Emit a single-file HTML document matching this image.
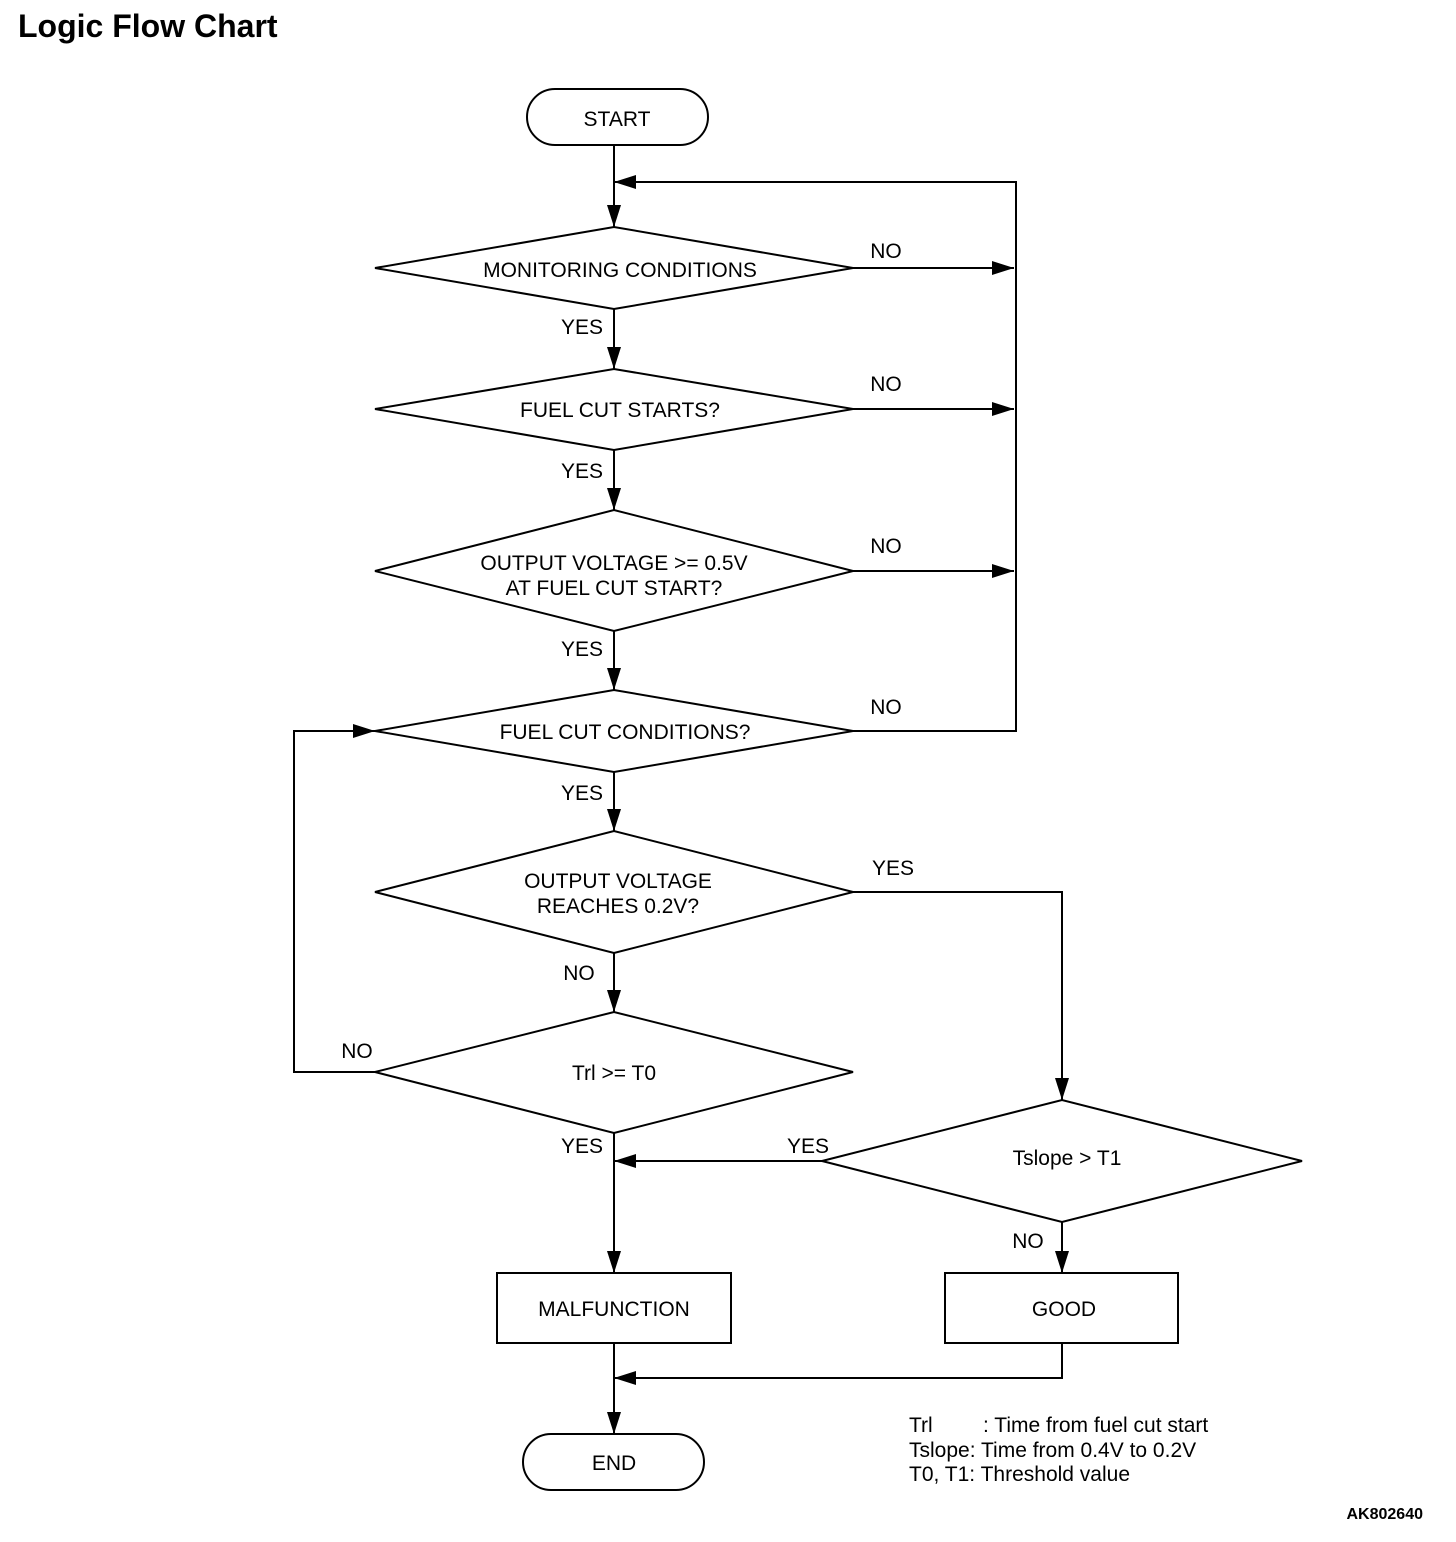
<!DOCTYPE html>
<html><head><meta charset="utf-8"><style>
html,body{margin:0;padding:0;background:#fff;}
svg{display:block;}
text{font-family:"Liberation Sans",Arial,sans-serif;fill:#000;}
</style></head><body>
<svg width="1456" height="1542" viewBox="0 0 1456 1542" xmlns="http://www.w3.org/2000/svg">
<defs>
<marker id="a" markerWidth="24" markerHeight="14" refX="22" refY="7" orient="auto" markerUnits="userSpaceOnUse">
<path d="M0,0 L22,7 L0,14 z" fill="#000"/>
</marker>
</defs>
<text x="18" y="37" font-size="32" font-weight="bold">Logic Flow Chart</text>
<g stroke="#000" stroke-width="2" fill="none">
<rect x="527" y="89" width="181" height="56" rx="28"/>
<rect x="523" y="1434" width="181" height="56" rx="28"/>
<rect x="497" y="1273" width="234" height="70"/>
<rect x="945" y="1273" width="233" height="70"/>
<polygon points="375,268 614,227 853,268 614,309"/>
<polygon points="375,409 614,369 853,409 614,450"/>
<polygon points="375,571 614,510 853,571 614,631"/>
<polygon points="375,731 614,690 853,731 614,772"/>
<polygon points="375,892 614,831 853,892 614,953"/>
<polygon points="375,1072 614,1012 853,1072 614,1133"/>
<polygon points="822,1161 1062,1100 1302,1161 1062,1222"/>
<!-- main line -->
<line x1="614" y1="145" x2="614" y2="227" marker-end="url(#a)"/>
<line x1="614" y1="309" x2="614" y2="369" marker-end="url(#a)"/>
<line x1="614" y1="450" x2="614" y2="510" marker-end="url(#a)"/>
<line x1="614" y1="631" x2="614" y2="690" marker-end="url(#a)"/>
<line x1="614" y1="772" x2="614" y2="831" marker-end="url(#a)"/>
<line x1="614" y1="953" x2="614" y2="1012" marker-end="url(#a)"/>
<line x1="614" y1="1133" x2="614" y2="1273" marker-end="url(#a)"/>
<line x1="614" y1="1343" x2="614" y2="1434" marker-end="url(#a)"/>
<!-- top loop -->
<polyline points="853,731 1016,731 1016,182 614,182" marker-end="url(#a)"/>
<line x1="853" y1="268" x2="1014" y2="268" marker-end="url(#a)"/>
<line x1="853" y1="409" x2="1014" y2="409" marker-end="url(#a)"/>
<line x1="853" y1="571" x2="1014" y2="571" marker-end="url(#a)"/>
<!-- left loop -->
<polyline points="375,1072 294,1072 294,731 375,731" marker-end="url(#a)"/>
<!-- yes right -->
<polyline points="853,892 1062,892 1062,1100" marker-end="url(#a)"/>
<line x1="822" y1="1161" x2="614" y2="1161" marker-end="url(#a)"/>
<line x1="1062" y1="1222" x2="1062" y2="1273" marker-end="url(#a)"/>
<polyline points="1062,1343 1062,1378 614,1378" marker-end="url(#a)"/>
</g>
<g font-size="21" text-anchor="middle">
<text x="617" y="126">START</text>
<text x="614" y="1470">END</text>
<text x="614" y="1316">MALFUNCTION</text>
<text x="1064" y="1316">GOOD</text>
<text x="620" y="277">MONITORING CONDITIONS</text>
<text x="620" y="417">FUEL CUT STARTS?</text>
<text x="614" y="570">OUTPUT VOLTAGE &gt;= 0.5V</text>
<text x="614" y="595">AT FUEL CUT START?</text>
<text x="625" y="739">FUEL CUT CONDITIONS?</text>
<text x="618" y="888">OUTPUT VOLTAGE</text>
<text x="618" y="913">REACHES 0.2V?</text>
<text x="614" y="1080">Trl &gt;= T0</text>
<text x="1067" y="1165">Tslope &gt; T1</text>
<text x="886" y="258">NO</text>
<text x="886" y="391">NO</text>
<text x="886" y="553">NO</text>
<text x="886" y="714">NO</text>
<text x="582" y="334">YES</text>
<text x="582" y="478">YES</text>
<text x="582" y="656">YES</text>
<text x="582" y="800">YES</text>
<text x="893" y="875">YES</text>
<text x="579" y="980">NO</text>
<text x="357" y="1058">NO</text>
<text x="582" y="1153">YES</text>
<text x="808" y="1153">YES</text>
<text x="1028" y="1248">NO</text>
</g>
<g font-size="21">
<text x="909" y="1432">Trl</text>
<text x="983" y="1432">: Time from fuel cut start</text>
<text x="909" y="1457">Tslope: Time from 0.4V to 0.2V</text>
<text x="909" y="1481">T0, T1: Threshold value</text>
</g>
<text x="1423" y="1519" font-size="16" font-weight="bold" text-anchor="end">AK802640</text>
</svg>
</body></html>
